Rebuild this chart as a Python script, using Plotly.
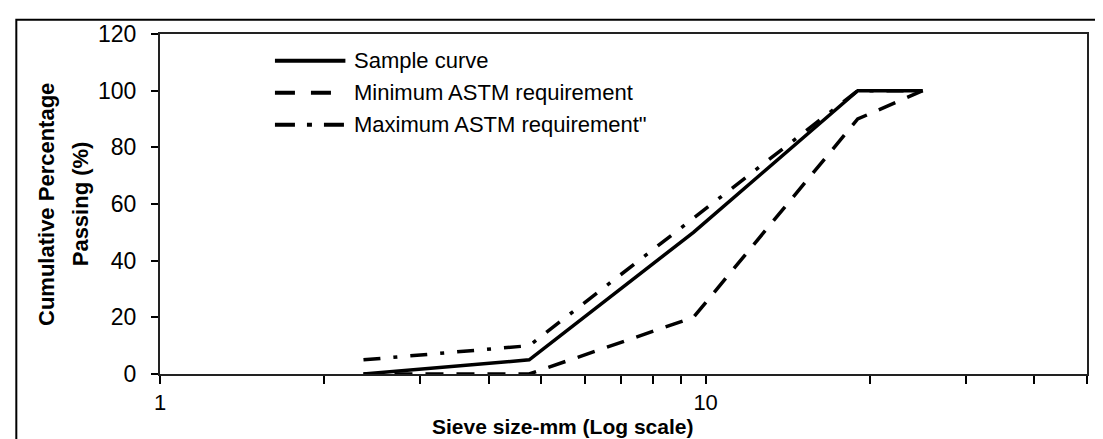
import math
import plotly.graph_objects as go

# sieve analysis values (ASTM C33 size No. 67 envelope)
sieve_mm = [2.36, 4.75, 9.5, 19, 25]
sample_curve = [0, 5, 50, 100, 100]
min_astm = [0, 0, 20, 90, 100]
max_astm = [5, 10, 55, 100, 100]

series_names = ["Sample curve", "Minimum ASTM requirement", 'Maximum ASTM requirement"']

x_tickvals = [1, 2, 3, 4, 5, 6, 7, 8, 9, 10, 20, 30, 40, 50]
x_ticktext = ["1", "", "", "", "", "", "", "", "", "10", "", "", "", ""]
y_tickvals = [0, 20, 40, 60, 80, 100, 120]

fnt = "Liberation Sans, Arial, sans-serif"
dashes = ["solid", "18px,13px", "17px,13px,4px,13px"]
legend_dashes = ["solid", "20px,16px", "20px,12px,5px,12px"]

fig = go.Figure()
for name, ys, d in zip(series_names, [sample_curve, min_astm, max_astm], dashes):
    fig.add_trace(go.Scatter(x=sieve_mm, y=ys, name=name, mode="lines",
                             line=dict(color="black", width=3.5, dash=d),
                             showlegend=False))

# hand-made legend so the line samples are long like the original
leg_y = [0.921, 0.827, 0.733]
for name, d, yy in zip(series_names, legend_dashes, leg_y):
    fig.add_shape(type="line", xref="paper", yref="paper", x0=0.124, x1=0.2, y0=yy, y1=yy,
                  line=dict(color="black", width=4, dash=d))
    fig.add_annotation(xref="paper", yref="paper", x=0.207, y=yy, text=name, showarrow=False,
                       xanchor="left", yanchor="middle", font=dict(size=22, family=fnt))

# axis titles
fig.add_annotation(xref="paper", yref="paper", x=0.434, y=-0.155, text="<b>Sieve size-mm (Log scale)</b>",
                   showarrow=False, xanchor="center", yanchor="middle", font=dict(size=21, family=fnt))
fig.add_annotation(xref="paper", yref="paper", x=-0.123, y=0.5, text="<b>Cumulative Percentage</b>",
                   textangle=-90, showarrow=False, xanchor="center", yanchor="middle",
                   font=dict(size=22, family=fnt))
fig.add_annotation(xref="paper", yref="paper", x=-0.086, y=0.5, text="<b>Passing (%)</b>",
                   textangle=-90, showarrow=False, xanchor="center", yanchor="middle",
                   font=dict(size=22, family=fnt))

# outer chart border
fig.add_shape(type="rect", xref="paper", yref="paper", x0=-0.155, x1=1.2, y0=-0.4, y1=1.042,
              line=dict(color="black", width=2), layer="below")

fig.update_xaxes(type="log", range=[0, math.log10(50)], tickvals=x_tickvals, ticktext=x_ticktext,
                 ticks="outside", ticklen=8, tickwidth=2, tickcolor="black", tickfont=dict(size=22),
                 showline=True, linecolor="#222", linewidth=2, mirror=True,
                 showgrid=False, zeroline=False)
fig.update_yaxes(range=[0, 120], tickvals=y_tickvals, ticks="outside", ticklen=7, tickwidth=2,
                 tickcolor="black", ticklabelstandoff=10, showline=True, linecolor="#222",
                 linewidth=2, mirror=True, showgrid=False, zeroline=False)

fig.update_layout(width=1103, height=439, margin=dict(l=152, r=24, t=26, b=73),
                  plot_bgcolor="white", paper_bgcolor="white",
                  font=dict(family=fnt, size=23, color="black"))

fig.write_html("out.html")
